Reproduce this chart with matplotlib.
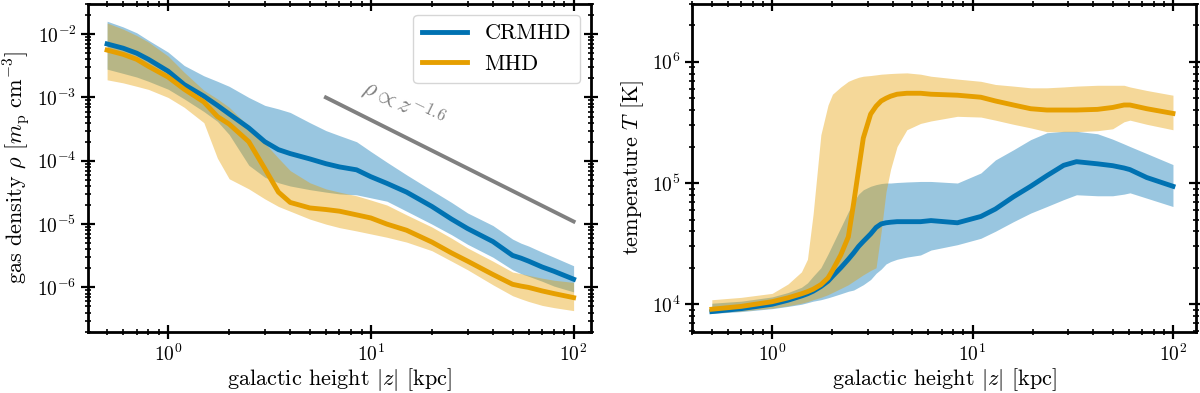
import matplotlib
matplotlib.use("Agg")
import matplotlib.pyplot as plt
import numpy as np

plt.rcParams["font.family"] = "serif"
plt.rcParams["font.serif"] = ["cmr10", "DejaVu Serif"]
plt.rcParams["mathtext.fontset"] = "cm"
plt.rcParams["axes.formatter.use_mathtext"] = True

blue = "#0072B2"
orange = "#E69F00"

# ---- density panel ----
z_rho = [0.5, 0.6, 0.7, 0.8, 1.0, 1.2, 1.5, 1.75, 2.0, 2.5, 3.0, 3.5, 4, 5, 6, 7, 8.5,
         10, 12, 15, 20, 25, 30, 40, 50, 55, 60, 70, 80, 100]

rho_crmhd = [7.0e-3, 6.0e-3, 5.0e-3, 4.0e-3, 2.6e-3, 1.6e-3, 1.05e-3, 7.5e-4, 5.5e-4, 3.3e-4,
             2.0e-4, 1.5e-4, 1.3e-4, 1.07e-4, 9.0e-5, 8.0e-5, 7.2e-5, 5.6e-5, 4.4e-5, 3.2e-5,
             1.9e-5, 1.2e-5, 8.5e-6, 5.3e-6, 3.2e-6, 2.9e-6, 2.6e-6, 2.1e-6, 1.8e-6, 1.35e-6]
rho_crmhd_hi = [1.6e-2, 1.3e-2, 1.05e-2, 8.0e-3, 5.2e-3, 3.2e-3, 2.2e-3, 1.8e-3, 1.5e-3, 1.0e-3,
                7.5e-4, 6.6e-4, 5.8e-4, 4.0e-4, 3.0e-4, 2.5e-4, 2.0e-4, 1.4e-4, 9.5e-5, 6.0e-5,
                3.4e-5, 2.2e-5, 1.5e-5, 9.5e-6, 5.8e-6, 5.0e-6, 4.5e-6, 3.6e-6, 3.0e-6, 2.2e-6]
rho_crmhd_lo = [2.8e-3, 2.4e-3, 2.1e-3, 1.8e-3, 1.35e-3, 9.5e-4, 6.0e-4, 4.2e-4, 2.6e-4, 8.5e-5,
                5.5e-5, 4.5e-5, 4.0e-5, 3.5e-5, 3.2e-5, 3.0e-5, 2.9e-5, 2.6e-5, 2.3e-5, 1.6e-5,
                1.0e-5, 6.8e-6, 4.8e-6, 3.0e-6, 1.9e-6, 1.65e-6, 1.5e-6, 1.25e-6, 1.05e-6, 8.5e-7]

rho_mhd = [5.6e-3, 4.8e-3, 4.0e-3, 3.1e-3, 2.1e-3, 1.35e-3, 8.5e-4, 5.0e-4, 3.8e-4, 2.0e-4,
           7.5e-5, 3.2e-5, 2.2e-5, 1.8e-5, 1.7e-5, 1.6e-5, 1.4e-5, 1.25e-5, 1.0e-5, 8.0e-6,
           5.2e-6, 3.5e-6, 2.6e-6, 1.6e-6, 1.12e-6, 1.05e-6, 1.0e-6, 8.8e-7, 8.0e-7, 6.9e-7]
rho_mhd_hi = [1.5e-2, 1.2e-2, 9.5e-3, 7.5e-3, 4.5e-3, 2.5e-3, 1.3e-3, 9.5e-4, 7.0e-4, 3.5e-4,
              1.9e-4, 1.1e-4, 7.0e-5, 4.5e-5, 3.6e-5, 3.2e-5, 2.8e-5, 2.4e-5, 2.0e-5, 1.4e-5,
              9.0e-6, 6.0e-6, 4.2e-6, 2.6e-6, 1.75e-6, 1.65e-6, 1.55e-6, 1.4e-6, 1.3e-6, 1.2e-6]
rho_mhd_lo = [1.9e-3, 1.7e-3, 1.5e-3, 1.34e-3, 1.0e-3, 7.0e-4, 4.0e-4, 1.1e-4, 5.2e-5, 3.6e-5,
              2.5e-5, 1.9e-5, 1.6e-5, 1.2e-5, 1.0e-5, 8.8e-6, 7.8e-6, 7.0e-6, 6.2e-6, 5.2e-6,
              3.8e-6, 2.6e-6, 1.9e-6, 1.1e-6, 7.4e-7, 6.6e-7, 6.0e-7, 5.2e-7, 4.8e-7, 4.3e-7]

# power-law guide, rho ~ z^-1.6
z_fit = [6, 100]
rho_fit = [1.0e-3, 1.1e-5]

# ---- temperature panel ----
z_T = [0.5, 0.7, 1.0, 1.2, 1.4, 1.5, 1.6, 1.75, 1.9, 2.0, 2.2, 2.4, 2.55, 2.7, 2.85, 3.1,
       3.3, 3.5, 3.7, 3.9, 4.2, 4.7, 5.5, 6.2, 8.4, 11, 13, 16, 19.5, 23.5, 28.5, 33, 42,
       50, 57, 61, 74, 100]

T_crmhd = [8.7e3, 9.2e3, 1.0e4, 1.08e4, 1.17e4, 1.22e4, 1.28e4, 1.4e4, 1.55e4, 1.7e4, 2.0e4,
           2.35e4, 2.65e4, 3.0e4, 3.3e4, 3.8e4, 4.3e4, 4.6e4, 4.7e4, 4.75e4, 4.8e4, 4.8e4,
           4.8e4, 4.9e4, 4.7e4, 5.3e4, 6.1e4, 7.7e4, 9.4e4, 1.15e5, 1.4e5, 1.5e5, 1.44e5,
           1.39e5, 1.33e5, 1.29e5, 1.11e5, 9.4e4]
T_crmhd_hi = [1.02e4, 1.06e4, 1.15e4, 1.25e4, 1.38e4, 1.5e4, 1.7e4, 2.0e4, 2.6e4, 3.1e4, 4.3e4,
              5.8e4, 7.0e4, 8.1e4, 8.8e4, 9.4e4, 9.7e4, 9.9e4, 1.0e5, 1.0e5, 1.01e5, 1.02e5,
              1.03e5, 1.03e5, 1.0e5, 1.21e5, 1.55e5, 1.88e5, 2.28e5, 2.6e5, 2.67e5, 2.67e5,
              2.55e5, 2.3e5, 2.1e5, 2.0e5, 1.75e5, 1.42e5]
T_crmhd_lo = [8.4e3, 8.7e3, 9.2e3, 9.6e3, 1.0e4, 1.03e4, 1.06e4, 1.09e4, 1.13e4, 1.16e4, 1.22e4,
              1.28e4, 1.31e4, 1.38e4, 1.45e4, 1.6e4, 1.8e4, 1.95e4, 2.15e4, 2.25e4, 2.35e4,
              2.45e4, 2.55e4, 2.8e4, 3.1e4, 3.5e4, 4.0e4, 4.8e4, 5.65e4, 6.4e4, 7.3e4, 8.0e4,
              7.85e4, 7.85e4, 8.1e4, 8.3e4, 7.5e4, 6.4e4]

T_mhd = [9.1e3, 9.6e3, 1.05e4, 1.13e4, 1.22e4, 1.27e4, 1.33e4, 1.45e4, 1.65e4, 1.9e4, 2.55e4,
         3.6e4, 6.8e4, 1.29e5, 2.35e5, 3.7e5, 4.3e5, 4.75e5, 5.0e5, 5.2e5, 5.4e5, 5.5e5,
         5.5e5, 5.4e5, 5.3e5, 5.1e5, 4.75e5, 4.4e5, 4.1e5, 4.0e5, 4.0e5, 4.0e5, 4.05e5,
         4.2e5, 4.4e5, 4.4e5, 4.1e5, 3.75e5]
T_mhd_hi = [1.09e4, 1.14e4, 1.23e4, 1.47e4, 1.85e4, 2.35e4, 5.5e4, 2.5e5, 4.4e5, 5.4e5, 6.2e5,
            6.9e5, 7.2e5, 7.45e5, 7.6e5, 7.7e5, 7.8e5, 7.9e5, 7.95e5, 8.0e5, 8.05e5, 8.1e5,
            7.9e5, 7.6e5, 7.2e5, 6.9e5, 6.5e5, 6.3e5, 6.1e5, 6.1e5, 6.2e5, 6.3e5, 6.4e5,
            6.4e5, 6.4e5, 6.2e5, 5.8e5, 5.3e5]
T_mhd_lo = [8.5e3, 8.8e3, 9.3e3, 9.7e3, 1.02e4, 1.05e4, 1.09e4, 1.14e4, 1.2e4, 1.25e4, 1.35e4,
            1.45e4, 1.55e4, 1.65e4, 1.75e4, 1.9e4, 2.0e4, 4.0e4, 8.5e4, 1.3e5, 2.0e5, 2.75e5,
            3.1e5, 3.25e5, 3.55e5, 3.5e5, 3.3e5, 3.05e5, 2.85e5, 2.65e5, 2.65e5, 2.65e5,
            2.7e5, 2.8e5, 3.2e5, 3.3e5, 3.05e5, 2.75e5]


fig = plt.figure(figsize=(12, 3.93), dpi=100)
ax1 = fig.add_axes([0.0736, 0.156, 0.419, 0.834])
ax2 = fig.add_axes([0.577, 0.156, 0.4195, 0.834])

# density
ax1.fill_between(z_rho, rho_crmhd_lo, rho_crmhd_hi, color=blue, alpha=0.4, lw=0)
ax1.fill_between(z_rho, rho_mhd_lo, rho_mhd_hi, color=orange, alpha=0.4, lw=0)
ax1.plot(z_rho, rho_crmhd, color=blue, lw=3.5, label="CRMHD")
ax1.plot(z_rho, rho_mhd, color=orange, lw=3.5, label="MHD")
ax1.plot(z_fit, rho_fit, color="grey", lw=2.8)
ax1.text(14.5, 8.0e-4, r"$\rho\propto z^{-1.6}$", color="grey", fontsize=17,
         rotation=-26, ha="center", va="center")
ax1.set_xscale("log")
ax1.set_yscale("log")
ax1.set_xlim(0.404, 122)
ax1.set_ylim(2e-7, 3e-2)
ax1.set_xlabel(r"galactic height $|z|$ $[\mathrm{kpc}]$", fontsize=16, labelpad=1)
ax1.set_ylabel(r"gas density $\rho$ $[m_\mathrm{p}\ \mathrm{cm}^{-3}]$", fontsize=16)
ax1.legend(loc="upper right", fontsize=16, handlelength=2.0)

# temperature
ax2.fill_between(z_T, T_crmhd_lo, T_crmhd_hi, color=blue, alpha=0.4, lw=0)
ax2.fill_between(z_T, T_mhd_lo, T_mhd_hi, color=orange, alpha=0.4, lw=0)
ax2.plot(z_T, T_crmhd, color=blue, lw=3.5)
ax2.plot(z_T, T_mhd, color=orange, lw=3.5)
ax2.set_xscale("log")
ax2.set_yscale("log")
ax2.set_xlim(0.40, 130)
ax2.set_ylim(5.94e3, 3.0e6)
ax2.set_xlabel(r"galactic height $|z|$ $[\mathrm{kpc}]$", fontsize=16, labelpad=1)
ax2.set_ylabel(r"temperature $T$ $[\mathrm{K}]$", fontsize=16)

for ax in (ax1, ax2):
    for s in ax.spines.values():
        s.set_linewidth(2)
    ax.tick_params(which="both", direction="inout", top=True, right=True, labelsize=14)
    ax.tick_params(which="major", length=10, width=1.6)
    ax.tick_params(which="minor", length=5, width=1.2)

plt.savefig("out.png", dpi=100)
